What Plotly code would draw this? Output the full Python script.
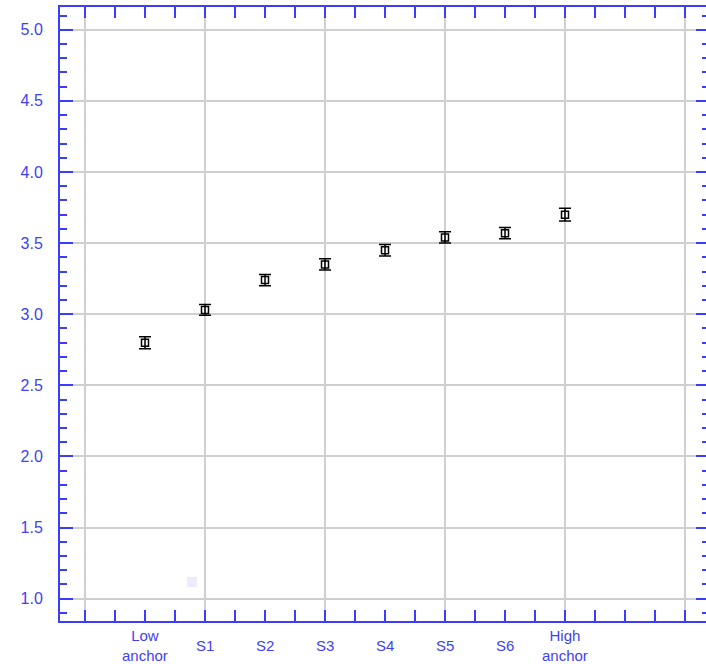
import plotly.graph_objects as go

# Category labels along the x axis and the mean score with its error for each
categories = ["Low<br>anchor", "S1", "S2", "S3", "S4", "S5", "S6", "High<br>anchor"]
means = [2.80, 3.03, 3.24, 3.35, 3.45, 3.54, 3.57, 3.70]
errors = [0.042, 0.038, 0.040, 0.040, 0.040, 0.040, 0.040, 0.045]
y_ticks = [1.0, 1.5, 2.0, 2.5, 3.0, 3.5, 4.0, 4.5, 5.0]

AXIS_BLUE = "#3c3cff"
TEXT_BLUE = "#3f3ff5"
GRID = "#cfcfcf"
FONT = "Liberation Sans, Arial, sans-serif"
Y_RANGE = [0.843, 5.16]

positions = list(range(len(categories)))

fig = go.Figure()
fig.add_trace(go.Scatter(
    x=positions,
    y=means,
    mode="markers",
    marker=dict(symbol="square-open", size=7, color="black",
                line=dict(width=1.5, color="black")),
    error_y=dict(type="data", array=errors, visible=True,
                 color="black", thickness=1.5, width=6),
    showlegend=False,
    hoverinfo="x+y",
))

# Empty trace carrying the right-hand tick axis
fig.add_trace(go.Scatter(x=[None], y=[None], yaxis="y2",
                         showlegend=False, hoverinfo="skip"))

# Category names under the axis, vertically centred on a shared line
for pos, label in zip(positions, categories):
    fig.add_annotation(
        x=pos, xref="x", y=0, yref="paper",
        yshift=-24, yanchor="middle", xanchor="center",
        text=label, showarrow=False,
        font=dict(family=FONT, size=15, color=TEXT_BLUE),
    )

# Small pale key box near the bottom of the plot
fig.add_shape(type="rect", xref="paper", yref="paper",
              x0=0.1966, x1=0.2121, y0=0.0554, y1=0.0717,
              fillcolor="#ececff", line=dict(width=0), layer="below")

y_minor = dict(dtick=0.1, tick0=1.0, ticks="inside", ticklen=7,
               tickwidth=2, tickcolor=AXIS_BLUE, showgrid=False)

fig.update_layout(
    width=706, height=664,
    margin=dict(l=60, r=0, t=7, b=43),
    paper_bgcolor="white", plot_bgcolor="white",
    font=dict(family=FONT, size=14, color=TEXT_BLUE),
    xaxis=dict(
        range=[-1.4167, 9.35],
        tickvals=[-1, 1, 3, 5, 7, 9],
        showticklabels=False,
        showgrid=True, gridcolor=GRID, gridwidth=2,
        zeroline=False,
        showline=True, linecolor=AXIS_BLUE, linewidth=2, mirror="allticks",
        ticks="inside", ticklen=11, tickwidth=2, tickcolor=AXIS_BLUE,
        minor=dict(dtick=0.5, tick0=-1, ticks="inside", ticklen=4,
                   tickwidth=2, tickcolor=AXIS_BLUE, showgrid=False),
    ),
    yaxis=dict(
        range=Y_RANGE,
        tickvals=y_ticks,
        tickformat=".1f",
        showgrid=True, gridcolor=GRID, gridwidth=1.5,
        zeroline=False,
        showline=True, linecolor=AXIS_BLUE, linewidth=2, mirror=False,
        ticks="inside", ticklen=13, tickwidth=2, tickcolor=AXIS_BLUE,
        minor=y_minor,
        tickfont=dict(family=FONT, size=16, color=TEXT_BLUE),
        ticklabelstandoff=12,
    ),
    yaxis2=dict(
        overlaying="y", side="right",
        range=Y_RANGE,
        tickvals=y_ticks,
        showticklabels=False,
        showgrid=False, zeroline=False, showline=False,
        ticks="inside", ticklen=10, tickwidth=2, tickcolor=AXIS_BLUE,
        minor=dict(y_minor, ticklen=4),
    ),
)

fig.write_html("out.html")
